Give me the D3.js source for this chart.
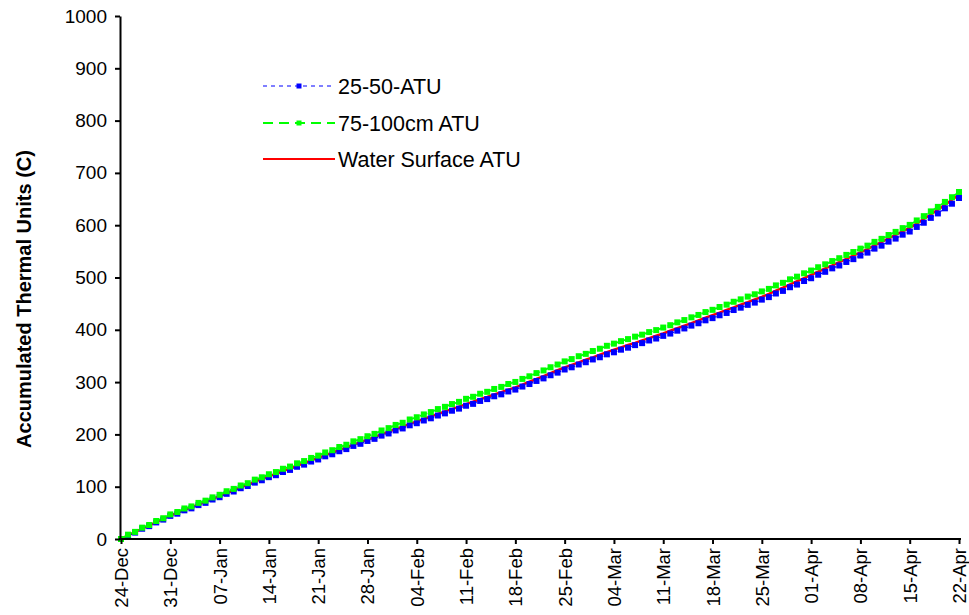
<!DOCTYPE html>
<html>
<head>
<meta charset="utf-8">
<script src="https://cdn.jsdelivr.net/npm/d3@7"></script>
<style>
  html, body { margin: 0; padding: 0; background: #fff; }
  svg { display: block; font-family: "Liberation Sans", Arial, sans-serif; }
</style>
</head>
<body>
<svg id="chart" width="969" height="615"></svg>
<script>
// x tick labels, one every 7 days starting 24-Dec (day 0) to 22-Apr (day 119)
const tickLabels = ["24-Dec","31-Dec","07-Jan","14-Jan","21-Jan","28-Jan","04-Feb","11-Feb","18-Feb",
  "25-Feb","04-Mar","11-Mar","18-Mar","25-Mar","01-Apr","08-Apr","15-Apr","22-Apr"];
const yTicks = [0,100,200,300,400,500,600,700,800,900,1000];

// Daily accumulated thermal units (index = day since 24-Dec)
const atu2550 = [0,6.7,12.2,19.6,24.6,31.7,37.1,44.2,48.4,54.8,58.6,64.8,69.1,75.5,79.9,
  86.4,90.8,97.1,101.3,107.8,112.3,118.2,122.0,128.1,132.1,138.1,142.2,148.1,152.1,
  158.1,162.0,167.8,171.9,178.0,182.0,187.5,191.5,197.7,201.8,207.6,211.4,217.4,221.4,
  226.6,230.8,236.1,240.2,245.3,249.3,254.8,258.4,264.0,267.5,272.9,276.6,282.1,285.7,
  291.5,296.3,302.2,307.1,313.1,318.1,324.1,328.3,333.7,338.0,343.3,347.5,353.1,357.0,
  362.0,365.8,370.7,374.5,379.6,383.3,388.4,392.8,398.3,402.6,408.0,412.5,418.1,422.3,
  427.8,432.2,437.8,442.3,447.7,452.0,457.7,462.5,469.4,474.4,481.4,486.5,493.3,498.6,
  505.3,510.9,517.5,523.0,529.7,535.1,542.0,547.6,555.2,560.9,568.6,574.4,581.9,587.9,
  596.7,604.7,614.0,622.5,632.3,641.1,652.0];

const atu75100 = [0,8.3,13.6,21.7,26.8,34.4,39.7,47.0,51.6,58.4,62.3,69.0,73.3,79.6,84.5,
  91.3,95.8,102.3,106.7,113.5,118.0,123.8,128.0,134.3,138.5,144.7,149.0,155.0,159.4,
  165.5,169.8,175.9,180.2,186.7,190.9,196.5,201.0,207.5,212.0,218.1,222.2,228.5,232.8,
  238.2,242.7,248.4,252.7,258.0,262.2,268.0,271.9,277.7,281.4,286.9,290.8,296.4,300.3,
  306.1,311.1,317.2,322.3,328.4,333.6,339.6,344.0,349.5,354.0,359.4,363.8,369.4,373.5,
  378.3,382.2,386.9,390.7,395.6,399.4,404.3,408.8,414.2,418.6,423.8,428.4,433.9,438.2,
  443.6,448.1,453.6,458.2,463.5,467.9,473.4,478.2,484.9,489.8,496.5,501.6,508.0,513.3,
  519.6,525.2,531.4,536.9,543.2,548.7,555.2,560.9,568.1,573.9,581.2,587.2,594.4,600.6,
  609.1,617.3,626.4,635.0,644.5,653.5,663.5];

const atuSurface = [0,7.1,13.1,19.9,25.8,32.3,38.5,45.0,50.0,55.8,60.4,66.0,71.1,76.8,82.0,
  87.9,93.1,98.7,103.7,109.5,114.8,120.0,124.6,130.0,134.8,140.1,145.0,150.2,155.0,
  160.3,165.0,170.1,175.0,180.4,185.2,190.0,194.8,200.3,205.2,210.3,214.9,220.2,225.0,
  229.5,234.5,239.1,244.0,248.4,253.2,258.0,262.4,267.3,271.6,276.3,280.8,285.6,290.0,
  295.1,300.7,305.9,311.6,316.9,322.7,328.0,333.0,337.7,342.8,347.4,352.4,357.3,362.0,
  366.3,370.9,375.1,379.7,384.1,388.6,393.0,398.2,403.0,408.1,412.8,418.1,423.0,428.0,
  432.8,438.0,442.9,448.2,452.9,458.0,463.0,468.6,474.8,480.6,486.9,492.8,498.9,505.0,
  511.0,517.4,523.3,529.6,535.6,541.8,548.0,554.4,561.3,567.8,574.8,581.4,588.2,595.0,
  603.1,611.9,620.5,629.8,638.9,648.5,658.0];

const seriesNames = ["25-50-ATU","75-100cm ATU","Water Surface ATU"];

const svg = d3.select("#chart");
const x = d3.scaleLinear().domain([0, 119]).range([121, 959]);
const y = d3.scaleLinear().domain([0, 1000]).range([539, 16]);

const series = [
  {name: seriesNames[2], data: atuSurface, color: "#ff0000", width: 2.5, dash: null, marker: false},
  {name: seriesNames[0], data: atu2550, color: "#0000ff", width: 1.2, dash: "2,3", marker: true},
  {name: seriesNames[1], data: atu75100, color: "#00ff00", width: 1.8, dash: "8,4", marker: true}
];

const line = d3.line().x((d, i) => x(i)).y(d => y(d));
const msize = 6;

series.forEach(s => {
  svg.append("path")
    .datum(s.data)
    .attr("d", line)
    .attr("fill", "none")
    .attr("stroke", s.color)
    .attr("stroke-width", s.width)
    .attr("stroke-dasharray", s.dash);
  if (s.marker) {
    svg.append("g").selectAll("rect")
      .data(s.data)
      .join("rect")
      .attr("x", (d, i) => x(i) - msize / 2)
      .attr("y", d => y(d) - msize / 2)
      .attr("width", msize)
      .attr("height", msize)
      .attr("fill", s.color);
  }
});

// Axes
const yAxis = d3.axisLeft(y).tickValues(yTicks).tickFormat(d3.format("d"))
  .tickSize(5).tickSizeOuter(0).tickPadding(8);
const gy = svg.append("g").attr("transform", "translate(120,0)").call(yAxis);
gy.select(".domain").attr("stroke", "#000").attr("stroke-width", 2);
gy.selectAll(".tick line").attr("stroke", "#000").attr("stroke-width", 2);
gy.selectAll(".tick text").attr("font-size", 19).attr("fill", "#000")
  .attr("font-family", "'Liberation Sans', Arial, sans-serif");

const xTickVals = tickLabels.map((_, i) => i * 7);
const xAxis = d3.axisBottom(x).tickValues(xTickVals)
  .tickFormat((d, i) => tickLabels[i]).tickSize(5).tickSizeOuter(0);
const gx = svg.append("g").attr("transform", "translate(0,539)").call(xAxis);
gx.select(".domain").attr("stroke", "#000").attr("stroke-width", 2)
  .attr("d", "M119,0H961");
gx.selectAll(".tick line").attr("stroke", "#000").attr("stroke-width", 2);
gx.selectAll(".tick text")
  .attr("font-size", 18.5).attr("fill", "#000")
  .attr("font-family", "'Liberation Sans', Arial, sans-serif")
  .attr("transform", "rotate(-90)")
  .attr("text-anchor", "end")
  .attr("x", -9).attr("y", 0).attr("dy", "0.35em");

// Y axis title
svg.append("text")
  .attr("transform", "translate(31,299) rotate(-90)")
  .attr("text-anchor", "middle")
  .attr("font-size", 20).attr("font-weight", "bold").attr("fill", "#000")
  .text("Accumulated Thermal Units (C)");

// Legend
const legendRows = [
  {name: seriesNames[0], color: "#0000ff", width: 1.2, dash: "4,4", marker: true, y: 86},
  {name: seriesNames[1], color: "#00ff00", width: 2, dash: "10,6", marker: true, y: 123},
  {name: seriesNames[2], color: "#ff0000", width: 2, dash: null, marker: false, y: 159}
];
const lg = svg.append("g");
legendRows.forEach(r => {
  lg.append("line").attr("x1", 263).attr("x2", 335).attr("y1", r.y).attr("y2", r.y)
    .attr("stroke", r.color).attr("stroke-width", r.width).attr("stroke-dasharray", r.dash);
  if (r.marker) {
    lg.append("rect").attr("x", 299 - 2.5).attr("y", r.y - 2.5)
      .attr("width", 5).attr("height", 5).attr("fill", r.color);
  }
  lg.append("text").attr("x", 338).attr("y", r.y).attr("dy", "0.35em")
    .attr("font-size", 21.5).attr("fill", "#000").text(r.name);
});
</script>
</body>
</html>
